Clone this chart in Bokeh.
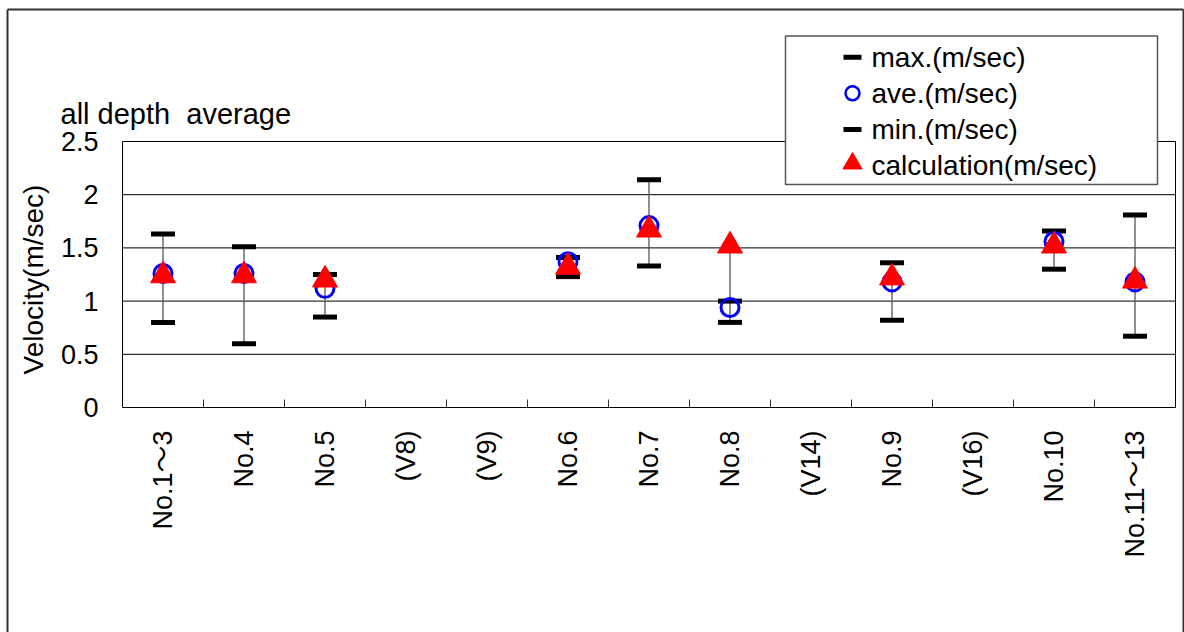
import numpy as np
from bokeh.plotting import figure
from bokeh.models import Range1d, ColumnDataSource
from bokeh.core.properties import value
from bokeh.embed import file_html
from bokeh.resources import INLINE

# Survey points along the channel (V-points have no measurements)
categories = ["No.1～3", "No.4", "No.5", "(V8)", "(V9)", "No.6", "No.7",
              "No.8", "(V14)", "No.9", "(V16)", "No.10", "No.11～13"]
nan = float("nan")
vel_max = [1.63, 1.51, 1.25, nan, nan, 1.41, 2.14, 1.00, nan, 1.36, nan, 1.66, 1.81]
vel_ave = [1.26, 1.26, 1.12, nan, nan, 1.37, 1.71, 0.94, nan, 1.18, nan, 1.56, 1.18]
vel_min = [0.80, 0.60, 0.85, nan, nan, 1.23, 1.33, 0.80, nan, 0.82, nan, 1.30, 0.67]
vel_calc = [1.24, 1.24, 1.20, nan, nan, 1.32, 1.67, 1.52, nan, 1.22, nan, 1.52, 1.19]

y_ticks = [0, 0.5, 1, 1.5, 2, 2.5]
y_tick_labels = ["0", "0.5", "1", "1.5", "2", "2.5"]
legend_labels = ["max.(m/sec)", "ave.(m/sec)", "min.(m/sec)", "calculation(m/sec)"]
title_text = "all depth\u00a0 average"
y_label = "Velocity(m/sec)"

FONT = value("Liberation Sans, Noto Sans CJK JP")

# canvas layout (pixels)
W, H = 1184, 632
PLOT_LEFT, PLOT_BOTTOM = 122, 407
PX_PER_CAT, PX_PER_UNIT = 81.0, 106.4

n = len(categories)
y_top = y_ticks[-1]


def dx(px):
    return (px - PLOT_LEFT) / PX_PER_CAT


def dy(py):
    return (PLOT_BOTTOM - py) / PX_PER_UNIT


p = figure(width=W, height=H, output_backend="svg", toolbar_location=None,
           title=None, x_axis_location=None, y_axis_location=None,
           x_range=Range1d(dx(0), dx(W)), y_range=Range1d(dy(H), dy(0)),
           min_border=0)
p.min_border_left = p.min_border_right = p.min_border_top = p.min_border_bottom = 0
p.outline_line_color = None
p.background_fill_color = "white"
p.border_fill_color = "white"
p.grid.visible = False

xc = np.arange(n) + 0.5
stack = np.array([vel_max, vel_ave, vel_min, vel_calc], dtype=float)
valid = ~np.all(np.isnan(stack), axis=0)
hi = np.max(np.where(np.isnan(stack), -np.inf, stack), axis=0)
lo = np.min(np.where(np.isnan(stack), np.inf, stack), axis=0)

src = ColumnDataSource(dict(x=xc, vmax=vel_max, vave=vel_ave, vmin=vel_min, vcalc=vel_calc))
hl = ColumnDataSource(dict(x=xc[valid], lo=lo[valid], hi=hi[valid]))

# horizontal gridlines (incl. plot top and x-axis line)
p.segment(x0=0, x1=n, y0=y_ticks, y1=y_ticks, line_color="black", line_width=1)
# left axis line and right plot border
p.segment(x0=[0, n], x1=[0, n], y0=0, y1=y_top, line_color="black", line_width=1)
# small inner ticks at the category boundaries
bounds = np.arange(1, n)
p.segment(x0=bounds, x1=bounds, y0=0, y1=8 / PX_PER_UNIT, line_color="#333333", line_width=1)

# y tick labels and axis title
p.text(x=0, y=y_ticks, text=y_tick_labels, x_offset=-24, text_align="right",
       text_baseline="middle", text_font=FONT, text_font_size="27px", text_color="black")
p.text(x=[0], y=[y_top / 2], text=[y_label], angle=np.pi / 2, x_offset=-89, y_offset=5,
       text_align="center", text_baseline="middle", text_font=FONT,
       text_font_size="28px", text_color="black")

# x category labels, vertical
p.text(x=xc, y=0, text=categories, angle=np.pi / 2, y_offset=23, text_align="right",
       text_baseline="middle", text_font=FONT, text_font_size="27px", text_color="black")

# chart title
p.text(x=[0], y=[y_top], text=[title_text], x_offset=-62, y_offset=-28, text_align="left",
       text_baseline="alphabetic", text_font=FONT, text_font_size="29px", text_color="black")

# high-low lines spanning all series
p.segment(x0="x", y0="lo", x1="x", y1="hi", source=hl, line_color="#555555", line_width=1.3)

p.scatter("x", "vmax", source=src, marker="dash", size=24, line_color="black", line_width=5)
p.scatter("x", "vmin", source=src, marker="dash", size=24, line_color="black", line_width=5)
p.scatter("x", "vave", source=src, marker="circle", size=18, line_color="#0000FF",
          line_width=3, fill_color=None)
p.scatter("x", "vcalc", source=src, marker="triangle", size=25, line_color="#FF0000",
          fill_color="#FF0000", line_width=1)

# legend box
p.quad(left=dx(785), right=dx(1157), top=dy(35.5), bottom=dy(184), fill_color="white",
       line_color="#555555", line_width=1.5)
row_py = 56.7 + 36.1 * np.arange(len(legend_labels))
ly = dy(row_py)
gx = dx(852)
p.scatter(x=[gx, gx], y=[ly[0], ly[2]], marker="dash", size=18, line_color="black", line_width=5)
p.scatter(x=[gx], y=[ly[1]], marker="circle", size=14, line_color="#0000FF", line_width=2.5,
          fill_color=None)
p.scatter(x=[gx], y=[ly[3] + 2 / PX_PER_UNIT], marker="triangle", size=19, line_color="#FF0000",
          fill_color="#FF0000")
p.text(x=dx(871), y=ly, text=legend_labels, text_align="left", text_baseline="middle",
       text_font=FONT, text_font_size="28px", text_color="black")

# outer chart-area frame
p.segment(x0=[dx(7), dx(7), dx(1183)], x1=[dx(7), dx(1183), dx(1183)],
          y0=[dy(9), dy(9), dy(9)], y1=[dy(H + 5), dy(9), dy(H + 5)],
          line_color="#333333", line_width=2)

open("out.html", "w").write(file_html(p, INLINE))
